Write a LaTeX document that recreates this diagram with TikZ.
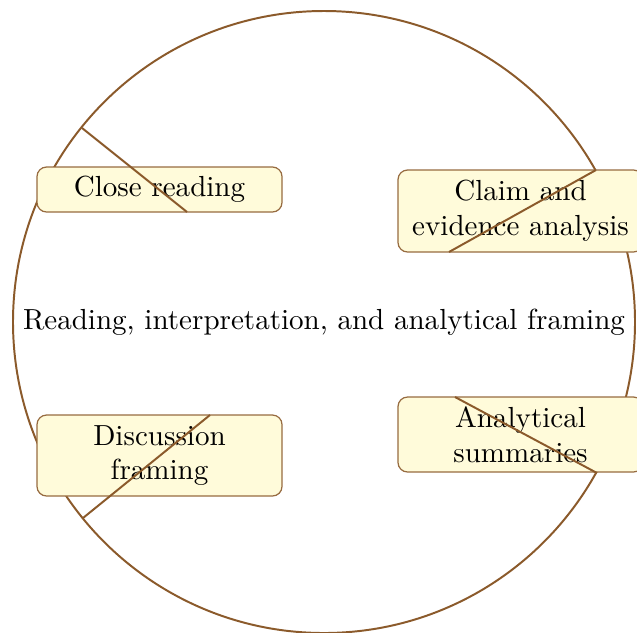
\documentclass[tikz,border=0pt]{standalone}
\usepackage{xcolor}
\definecolor{ringc}{RGB}{139,90,43}
\definecolor{boxfill}{RGB}{255,251,218}
\def\pxu{0.3659pt}
\tikzset{
  ring/.style={draw=ringc, line width=0.72pt},
  topic/.style={draw=ringc!90, line width=0.45pt, fill=boxfill, rounded corners=3.5pt,
    align=center, inner sep=0pt, minimum width=245*\pxu},
  spoke/.style={draw=ringc, line width=0.72pt},
}
\begin{document}
\begin{tikzpicture}[x=\pxu, y=-\pxu, font=\fontsize{10.63}{12.76}\selectfont]
\useasboundingbox (0,0) rectangle (637,632);
\node[ring, circle, minimum size=622*\pxu, inner sep=0pt] (hub) at (324,322) {};
\node (hubtext) at (324,322) {Reading, interpretation, and analytical framing};
\node[topic, minimum height=45*\pxu] (close) at (159.5,189.5) {Close reading};
\node[topic, minimum height=82*\pxu] (claim) at (520.5,211) {Claim and\\evidence analysis};
\node[topic, minimum height=75*\pxu] (summ) at (520.5,434.5) {Analytical\\summaries};
\node[topic, minimum height=81*\pxu] (disc) at (159.5,455.5) {Discussion\\framing};
\coordinate (r1) at (82,128);
\coordinate (b1) at (187,212);
\coordinate (r2) at (596,170);
\coordinate (b2) at (449,252);
\coordinate (b3) at (455,397);
\coordinate (r3) at (597,473);
\coordinate (b4) at (210,415);
\coordinate (r4) at (83,518);
\draw[spoke] (r1) -- (b1);
\draw[spoke] (r2) -- (b2);
\draw[spoke] (b3) -- (r3);
\draw[spoke] (b4) -- (r4);
\end{tikzpicture}
\end{document}
